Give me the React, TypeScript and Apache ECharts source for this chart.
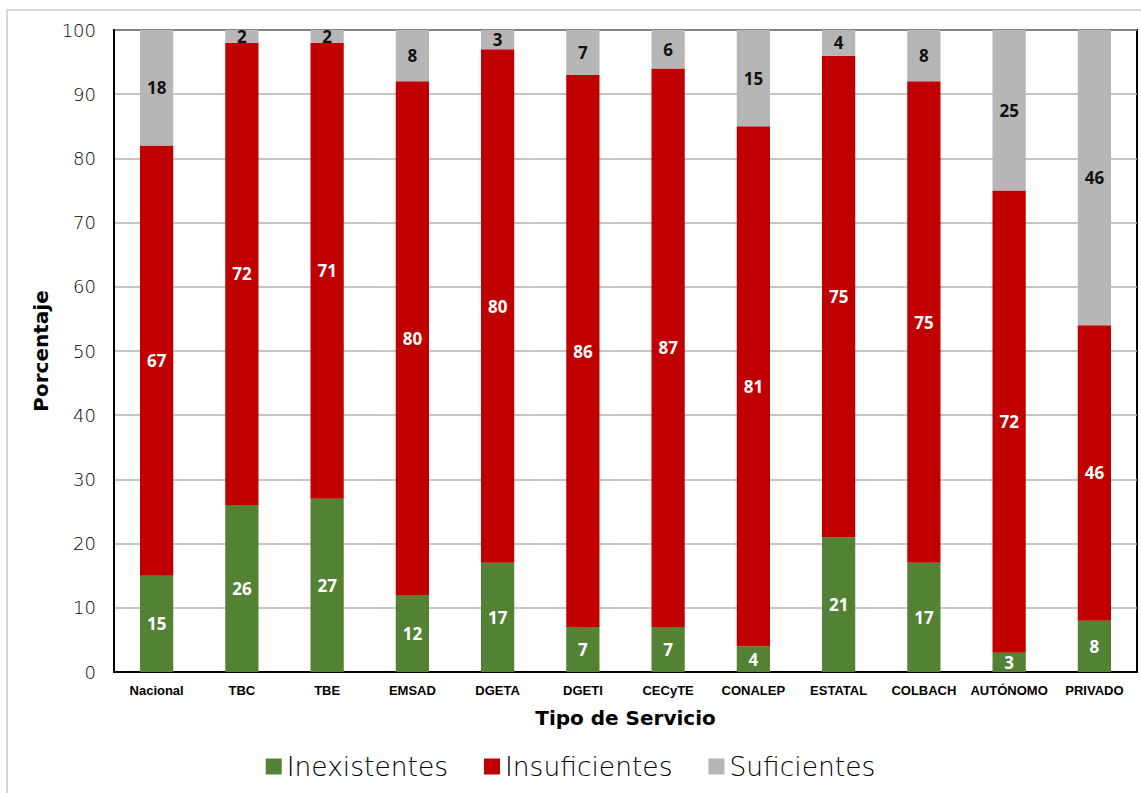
import React, { useEffect, useRef } from "react";
import * as echarts from "echarts";

const categories = ["Nacional", "TBC", "TBE", "EMSAD", "DGETA", "DGETI", "CECyTE", "CONALEP", "ESTATAL", "COLBACH", "AUTÓNOMO", "PRIVADO"];
const inexistentes = [15, 26, 27, 12, 17, 7, 7, 4, 21, 17, 3, 8];
const insuficientes = [67, 72, 71, 80, 80, 86, 87, 81, 75, 75, 72, 46];
const suficientes = [18, 2, 2, 8, 3, 7, 6, 15, 4, 8, 25, 46];
const yTicks = [0, 10, 20, 30, 40, 50, 60, 70, 80, 90, 100];

const FONT = "Noto Sans";
const WIDE = "DejaVu Sans";
const LIGHT = "'DejaVu Sans Light', 'DejaVu Sans'";

export default function App() {
  const ref = useRef<HTMLDivElement>(null);
  useEffect(() => {
    if (!ref.current) return;
    const chart = echarts.init(ref.current, null, { renderer: "svg" });
    const labelStyle = (color: string) => ({
      show: true,
      position: "inside" as const,
      color,
      fontFamily: FONT,
      fontWeight: "bold" as const,
      fontSize: 17,
    });
    chart.setOption({
      animation: false,
      backgroundColor: "#ffffff",
      graphic: [
        {
          type: "rect",
          shape: { x: 7, y: 10, width: 1145, height: 800 },
          style: { fill: "none", stroke: "#d6d6d6", lineWidth: 2 },
          silent: true,
          z: -1,
        },
      ],
      grid: { left: 114, right: 4, top: 30, bottom: 121, show: true, borderColor: "#000", borderWidth: 2, backgroundColor: "transparent" },
      legend: {
        bottom: 8,
        left: "center",
        itemWidth: 16,
        itemHeight: 16,
        itemGap: 36,
        icon: "rect",
        textStyle: { fontFamily: LIGHT, fontSize: 26.5, color: "#000", fontWeight: 200 },
        data: ["Inexistentes", "Insuficientes", "Suficientes"],
      },
      xAxis: {
        type: "category",
        data: categories,
        name: "Tipo de Servicio",
        nameLocation: "middle",
        nameGap: 36,
        nameTextStyle: { fontFamily: WIDE, fontWeight: "bold", fontSize: 20, color: "#000" },
        axisLine: { lineStyle: { color: "#000", width: 2 } },
        axisTick: { show: false },
        axisLabel: { fontFamily: "Liberation Sans Narrow, Arial Narrow, Liberation Sans", fontWeight: "bold", fontSize: 13, color: "#000", margin: 12, interval: 0 },
      },
      yAxis: {
        type: "value",
        min: 0,
        max: 100,
        interval: 10,
        name: "Porcentaje",
        nameLocation: "middle",
        nameGap: 63,
        nameRotate: 90,
        nameTextStyle: { fontFamily: WIDE, fontWeight: "bold", fontSize: 20, color: "#000" },
        axisLine: { show: true, lineStyle: { color: "#000", width: 2 } },
        axisTick: { show: false },
        axisLabel: { fontFamily: LIGHT, fontSize: 18, color: "#000", fontWeight: 200, margin: 18, formatter: (v: number) => (yTicks.includes(v) ? String(v) : "") },
        splitLine: { lineStyle: { color: "#b0b0b0", width: 1.5 } },
      },
      series: [
        { name: "Inexistentes", type: "bar", stack: "t", data: inexistentes, barWidth: "39%", itemStyle: { color: "#548235" }, label: labelStyle("#ffffff") },
        { name: "Insuficientes", type: "bar", stack: "t", data: insuficientes, barWidth: "39%", itemStyle: { color: "#c00000" }, label: labelStyle("#ffffff") },
        { name: "Suficientes", type: "bar", stack: "t", data: suficientes, barWidth: "39%", itemStyle: { color: "#b6b6b6" }, label: labelStyle("#111111") },
      ],
    });
    return () => chart.dispose();
  }, []);
  return <div ref={ref} style={{ position: "fixed", left: 0, top: 0, width: 1141, height: 793 }} />;
}
